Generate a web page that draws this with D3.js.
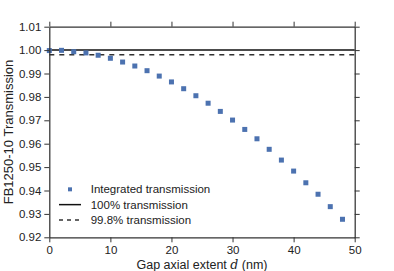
<!DOCTYPE html>
<html>
<head>
<meta charset="utf-8">
<script src="https://cdn.jsdelivr.net/npm/d3@7"></script>
<style>
  body { margin: 0; background: #fff; }
  svg { font-family: "Liberation Sans", Arial, sans-serif; }
</style>
</head>
<body>
<svg id="chart"></svg>
<script>
// gap axial extent (nm) and integrated transmission
const gapNm = [0, 2, 4, 6, 8, 10, 12, 14, 16, 18, 20, 22, 24, 26, 28, 30, 32, 34, 36, 38, 40, 42, 44, 46, 48];
const transmission = [0.9998, 0.9999, 0.9993, 0.9988, 0.9978, 0.9965, 0.9949, 0.9932, 0.9912, 0.9889,
  0.9864, 0.9835, 0.9805, 0.9773, 0.9738, 0.9701, 0.9661, 0.9621, 0.9576, 0.9530,
  0.9483, 0.9433, 0.9384, 0.9331, 0.9277];
const refLevels = [1.0, 0.998];
const xTicks = [0, 10, 20, 30, 40, 50];
const yTicks = [0.92, 0.93, 0.94, 0.95, 0.96, 0.97, 0.98, 0.99, 1.00, 1.01];
const legendLabels = ["Integrated transmission", "100% transmission", "99.8% transmission"];

const W = 394, H = 271;
const margin = { top: 26.7, right: 39.3, bottom: 33.7, left: 49.3 };
const width = W - margin.left - margin.right;
const height = H - margin.top - margin.bottom;

const svg = d3.select("#chart").attr("width", W).attr("height", H);
const g = svg.append("g").attr("transform", `translate(${margin.left},${margin.top})`);

const x = d3.scaleLinear().domain([0, 50]).range([0, width]);
const y = d3.scaleLinear().domain([0.92, 1.01]).range([height, 0]);

const axisColor = "#333";

// reference lines
g.append("line")
  .attr("x1", 0).attr("x2", width)
  .attr("y1", y(refLevels[0])).attr("y2", y(refLevels[0]))
  .attr("stroke", "#111").attr("stroke-width", 1.5);
g.append("line")
  .attr("x1", 0).attr("x2", width)
  .attr("y1", y(refLevels[1])).attr("y2", y(refLevels[1]))
  .attr("stroke", "#333").attr("stroke-width", 1.5)
  .attr("stroke-dasharray", "5,5");

// data squares
const ms = 5;
g.selectAll("rect.pt")
  .data(gapNm)
  .join("rect")
  .attr("class", "pt")
  .attr("x", (d) => x(d) - ms / 2)
  .attr("y", (d, i) => y(transmission[i]) - ms / 2)
  .attr("width", ms).attr("height", ms)
  .attr("fill", "#4c72b0");

// axes
function styleAxis(sel) {
  sel.select(".domain").attr("stroke", axisColor).attr("stroke-width", 1.25);
  sel.selectAll(".tick line").attr("stroke", axisColor).attr("stroke-width", 1);
  sel.selectAll(".tick text").attr("fill", "#222").style("font-size", "11.5px");
}

g.append("g")
  .attr("transform", `translate(0,${height})`)
  .call(d3.axisBottom(x).tickValues(xTicks).tickSize(5).tickPadding(4).tickSizeOuter(0))
  .call(styleAxis);
g.append("g")
  .call(d3.axisTop(x).tickValues(xTicks).tickSize(5).tickFormat("").tickSizeOuter(0))
  .call(styleAxis);
g.append("g")
  .call(d3.axisLeft(y).tickValues(yTicks).tickFormat(d3.format(".2f")).tickSize(5).tickPadding(3).tickSizeOuter(0))
  .call(styleAxis);
g.append("g")
  .attr("transform", `translate(${width},0)`)
  .call(d3.axisRight(y).tickValues(yTicks).tickFormat("").tickSize(5).tickSizeOuter(0))
  .call(styleAxis);

// axis labels
svg.append("text")
  .attr("transform", `translate(12.5,${margin.top + height / 2}) rotate(-90)`)
  .attr("text-anchor", "middle")
  .attr("fill", "#222")
  .style("font-size", "13px")
  .text("FB1250-10 Transmission");

const xl = svg.append("text")
  .attr("x", margin.left + width / 2)
  .attr("y", 268.5)
  .attr("text-anchor", "middle")
  .attr("fill", "#222")
  .style("font-size", "12.5px");
xl.append("tspan").text("Gap axial extent ");
xl.append("tspan").style("font-style", "italic").style("font-family", "'DejaVu Serif', serif").text("d");
xl.append("tspan").text(" (nm)");

// legend
const leg = g.append("g").attr("transform", `translate(0,${y(0.9405)})`);
const rowH = 15.3;
const lms = 4;
legendLabels.forEach((label, i) => {
  const row = leg.append("g").attr("transform", `translate(0,${i * rowH})`);
  if (i === 0) {
    row.append("rect").attr("x", 20.7 - lms / 2).attr("y", -lms / 2)
      .attr("width", lms).attr("height", lms).attr("fill", "#4c72b0");
  } else {
    row.append("line").attr("x1", 9.7).attr("x2", 31.7).attr("y1", 0).attr("y2", 0)
      .attr("stroke", i === 1 ? "#111" : "#333").attr("stroke-width", 1.5)
      .attr("stroke-dasharray", i === 1 ? null : "4,4");
  }
  row.append("text").attr("x", 41.4).attr("y", 0).attr("dy", "0.35em")
    .attr("fill", "#222").style("font-size", "11.5px").text(label);
});
</script>
</body>
</html>
